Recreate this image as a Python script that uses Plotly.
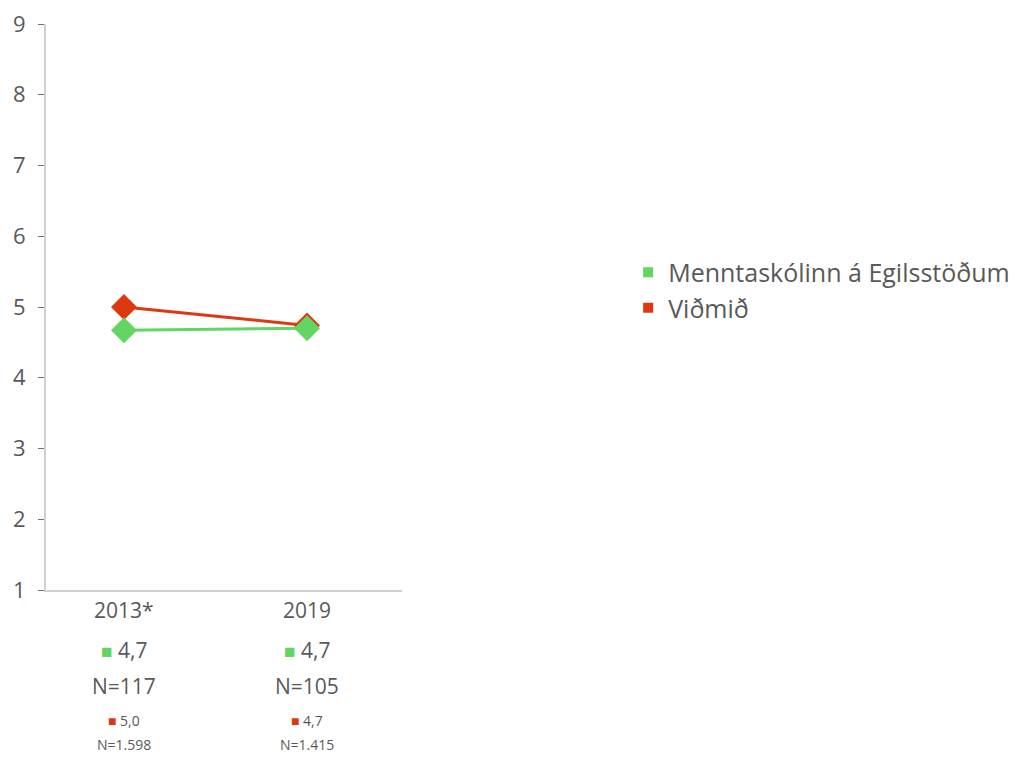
import plotly.graph_objects as go

categories = ["2013*", "2019"]
school_name = "Menntaskólinn á Egilsstöðum"
ref_name = "Viðmið"
school_values = [4.67, 4.70]
ref_values = [5.0, 4.74]
school_labels = ["4,7", "4,7"]
school_n = ["N=117", "N=105"]
ref_labels = ["5,0", "4,7"]
ref_n = ["N=1.598", "N=1.415"]
y_ticks = [1, 2, 3, 4, 5, 6, 7, 8, 9]

GREEN = "#62d562"
RED = "#dc3912"
TXT = "#595959"
FONT = "Open Sans"

fig = go.Figure()
fig.add_trace(go.Scatter(x=categories, y=ref_values, mode="lines+markers", name=ref_name,
                         line=dict(color=RED, width=3),
                         marker=dict(symbol="diamond", size=20, color=RED),
                         showlegend=False, hoverinfo="x+y"))
fig.add_trace(go.Scatter(x=categories, y=school_values, mode="lines+markers", name=school_name,
                         line=dict(color=GREEN, width=3),
                         marker=dict(symbol="diamond", size=20, color=GREEN),
                         showlegend=False, hoverinfo="x+y"))
# legend entries with square swatches
fig.add_trace(go.Scatter(x=[None], y=[None], mode="markers", name=school_name,
                         marker=dict(symbol="square", size=10, color=GREEN)))
fig.add_trace(go.Scatter(x=[None], y=[None], mode="markers", name=ref_name,
                         marker=dict(symbol="square", size=10, color=RED)))

ann = []
for i, c in enumerate(categories):
    rows = [
        (c, 21, -20),
        (f"<span style='color:{GREEN};font-size:19px'>■</span> {school_labels[i]}", 21, -60),
        (school_n[i], 21, -96),
        (f"<span style='color:{RED};font-size:14px'>■</span> {ref_labels[i]}", 14, -130),
        (ref_n[i], 14, -154),
    ]
    for text, size, shift in rows:
        ann.append(dict(x=i, xref="x", y=0, yref="paper", yshift=shift, yanchor="middle",
                        xanchor="center", text=text, showarrow=False,
                        font=dict(family=FONT, size=size, color=TXT)))

fig.update_layout(
    width=1015, height=750,
    margin=dict(l=38, r=621, t=16, b=168, autoexpand=False),
    paper_bgcolor="white", plot_bgcolor="white",
    font=dict(family=FONT, color=TXT),
    annotations=ann,
    legend=dict(xref="container", yref="container", x=0.611, y=0.624, xanchor="left", yanchor="middle",
                font=dict(family=FONT, size=25, color=TXT), itemsizing="trace",
                tracegroupgap=0, itemwidth=30),
    xaxis=dict(type="category", range=[-0.426, 1.519], showticklabels=False, ticks="",
               showline=True, linecolor="#d0d0d0", linewidth=2, showgrid=False, zeroline=False,
               automargin=False, fixedrange=True),
    yaxis=dict(range=[1, 9], tickvals=y_ticks, ticktext=[str(v) for v in y_ticks],
               showline=True, linecolor="#d0d0d0", linewidth=2, showgrid=False, zeroline=False,
               ticks="outside", ticklen=6, tickcolor="#707070", tickwidth=1, automargin=False,
               ticklabeloverflow="allow",
               tickfont=dict(family=FONT, size=22, color=TXT), ticklabelstandoff=8),
)

fig.write_html("out.html")
